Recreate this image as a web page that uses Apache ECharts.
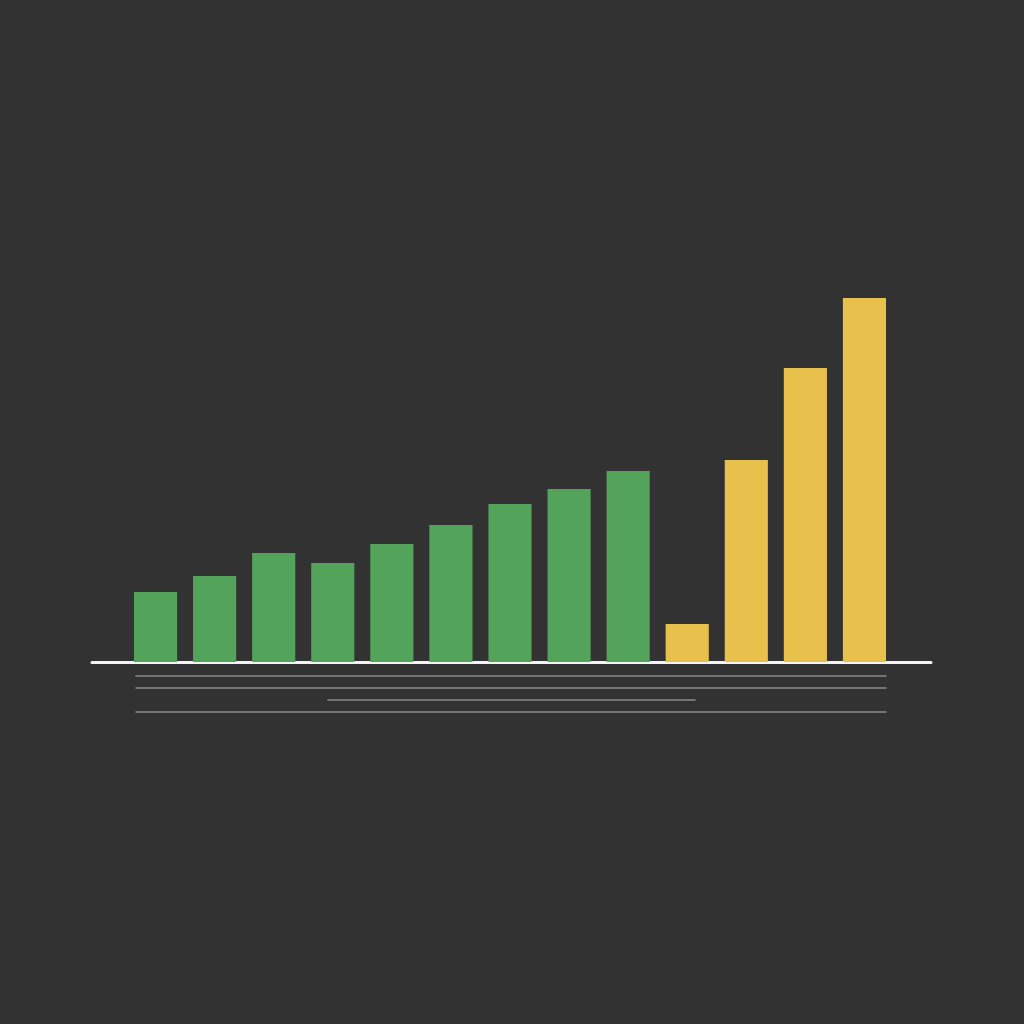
<!DOCTYPE html>
<html>
<head>
    <title>Bars</title>
    <script src="https://cdn.jsdelivr.net/npm/echarts@6/dist/echarts.min.js"></script>
    <style>
        html, body { margin: 0; padding: 0; background: #323232; }
        #chart { width: 1024px; height: 1024px; }
    </style>
</head>
<body>
    <div id="chart"></div>
    <script>
        // data
        const categories = ['1', '2', '3', '4', '5', '6', '7', '8', '9', '10', '11', '12', '13'];
        const greenValues = [70, 86, 109, 99, 118, 137, 158, 173, 191, '-', '-', '-', '-'];
        const yellowValues = ['-', '-', '-', '-', '-', '-', '-', '-', '-', 38, 202, 294, 364];

        // decorative rules under the baseline: [top, left, right]
        const rules = [
            [676, 136, 138],
            [688, 136, 138],
            [700, 328, 329],
            [712, 136, 138]
        ];

        const chart = echarts.init(document.getElementById('chart'));

        const grids = [
            { left: 126, right: 130, top: 262, height: 400 },
            { left: 92, right: 93, top: 662, height: 0 }
        ];
        const xAxes = [
            { type: 'category', data: categories, gridIndex: 0, show: false },
            {
                type: 'value', gridIndex: 1,
                axisLine: { show: true, lineStyle: { color: '#f4f4f4', width: 3 } },
                axisTick: { show: false }, axisLabel: { show: false }, splitLine: { show: false }
            }
        ];
        const yAxes = [
            { type: 'value', min: 0, max: 400, gridIndex: 0, show: false },
            { type: 'value', gridIndex: 1, show: false }
        ];

        rules.forEach(([top, left, right], i) => {
            grids.push({ left: left, right: right, top: top, height: 0 });
            xAxes.push({
                type: 'value', gridIndex: i + 2,
                axisLine: { show: true, lineStyle: { color: '#8c8c8c', width: 1.5 } },
                axisTick: { show: false }, axisLabel: { show: false }, splitLine: { show: false }
            });
            yAxes.push({ type: 'value', gridIndex: i + 2, show: false });
        });

        chart.setOption({
            backgroundColor: '#323232',
            animation: false,
            grid: grids,
            xAxis: xAxes,
            yAxis: yAxes,
            series: [
                {
                    type: 'bar', data: greenValues, barCategoryGap: '27%', barGap: '-100%',
                    itemStyle: { color: '#54a35b' }
                },
                {
                    type: 'bar', data: yellowValues, barCategoryGap: '27%', barGap: '-100%',
                    itemStyle: { color: '#e8c04c' }
                }
            ]
        });
    </script>
</body>
</html>
